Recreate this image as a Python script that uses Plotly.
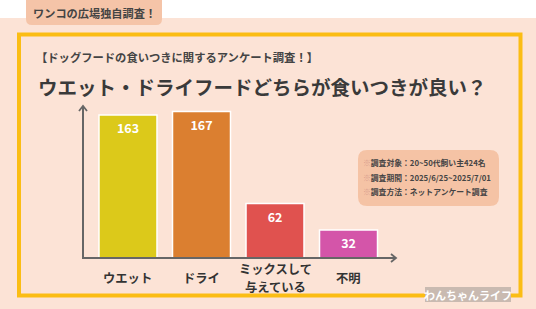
import plotly.graph_objects as go

W, H = 536, 309

categories = ["ウエット", "ドライ", "ミックスして<br>与えている", "不明"]
values = [163, 167, 62, 32]
bar_colors = ["#dcc91a", "#db7f30", "#e0524f", "#d455a9"]

tag_text = "ワンコの広場独自調査！"
subtitle = "【ドッグフードの食いつきに関するアンケート調査！】"
title = "ウエット・ドライフードどちらが食いつきが良い？"
info_lines = ["調査対象：20~50代飼い主424名",
              "調査期間：2025/6/25~2025/7/01",
              "調査方法：ネットアンケート調査"]
logo_text = "わんちゃんライフ"

FONT = "Noto Sans CJK JP"
BG = "#fce3d6"


def px(x):
    return x / W


def py(y):
    return 1 - y / H


def rrect(x0, y0, x1, y1, r):
    return (f"M{px(x0 + r)},{py(y0)} L{px(x1 - r)},{py(y0)} "
            f"Q{px(x1)},{py(y0)} {px(x1)},{py(y0 + r)} "
            f"L{px(x1)},{py(y1 - r)} Q{px(x1)},{py(y1)} {px(x1 - r)},{py(y1)} "
            f"L{px(x0 + r)},{py(y1)} Q{px(x0)},{py(y1)} {px(x0)},{py(y1 - r)} "
            f"L{px(x0)},{py(y0 + r)} Q{px(x0)},{py(y0)} {px(x0 + r)},{py(y0)} Z")


fig = go.Figure()
fig.add_trace(go.Bar(
    x=list(range(len(categories))), y=values,
    marker=dict(color=bar_colors, line=dict(color="white", width=1.5)),
    text=[str(v) for v in values], textposition="inside", insidetextanchor="end",
    textangle=0, constraintext="none",
    textfont=dict(family=FONT, size=12.5, color="white", weight="bold"),
    hoverinfo="skip",
))

shapes = []
shapes.append(dict(type="rect", xref="paper", yref="paper", x0=0, x1=1, y0=py(18), y1=1,
                   fillcolor="white", line=dict(width=0), layer="below"))
shapes.append(dict(type="path", xref="paper", yref="paper", path=rrect(26, -8, 162, 25, 6),
                   fillcolor="#f5c4a8", line=dict(width=0), layer="below"))
shapes.append(dict(type="rect", xref="paper", yref="paper", x0=px(19), x1=px(520.5),
                   y0=py(295.5), y1=py(34.5), line=dict(color="#fbbd14", width=4),
                   fillcolor="rgba(0,0,0,0)", layer="below"))
shapes.append(dict(type="path", xref="paper", yref="paper", path=rrect(358, 150, 499, 206, 9),
                   fillcolor="#f5c3a5", line=dict(width=0), layer="below"))
ax_col = "#666666"
shapes.append(dict(type="line", xref="paper", yref="paper", x0=px(83), x1=px(83),
                   y0=py(258), y1=py(106), line=dict(color=ax_col, width=2)))
shapes.append(dict(type="line", xref="paper", yref="paper", x0=px(82), x1=px(396),
                   y0=py(258), y1=py(258), line=dict(color=ax_col, width=2)))
shapes.append(dict(type="path", xref="paper", yref="paper",
                   path=f"M{px(79)},{py(111)} L{px(83)},{py(106)} L{px(87)},{py(111)}",
                   line=dict(color=ax_col, width=1.8)))
shapes.append(dict(type="path", xref="paper", yref="paper",
                   path=f"M{px(391)},{py(254)} L{px(396)},{py(258)} L{px(391)},{py(262)}",
                   line=dict(color=ax_col, width=1.8)))
shapes.append(dict(type="rect", xref="paper", yref="paper", x0=px(425), x1=px(511),
                   y0=py(302), y1=py(287), fillcolor="#c9bab1", line=dict(width=0), layer="above"))

ann = []
ann.append(dict(text=f"<b>{tag_text}</b>", x=px(94), y=py(13.5), xref="paper", yref="paper",
                showarrow=False, font=dict(family=FONT, size=11.2, color="#444444"),
                xanchor="center", yanchor="middle"))
ann.append(dict(text=f"<b>{subtitle}</b>", x=px(34), y=py(57), xref="paper", yref="paper",
                showarrow=False, font=dict(family=FONT, size=11.3, color="#444444"),
                xanchor="left", yanchor="middle"))
ann.append(dict(text=f"<b>{title}</b>", x=px(36), y=py(86), xref="paper", yref="paper",
                showarrow=False, font=dict(family=FONT, size=19.5, color="#3a3a3a"),
                xanchor="left", yanchor="middle"))
for line, yy in zip(info_lines, [162, 177, 192]):
    ann.append(dict(text=f"<span style='color:#d9a08f'>※</span><b>{line}</b>",
                    x=px(361), y=py(yy), xref="paper", yref="paper", showarrow=False,
                    font=dict(family=FONT, size=7.8, color="#444444"),
                    xanchor="left", yanchor="middle"))
for i, c in enumerate(categories):
    parts = c.split("<br>")
    if len(parts) == 1:
        ys = [277.5]
    else:
        ys = [268.5, 286.5]
    for part, yy in zip(parts, ys):
        ann.append(dict(text=f"<b>{part}</b>", x=i, y=py(yy), xref="x", yref="paper",
                        showarrow=False, font=dict(family=FONT, size=12.3, color="#333333"),
                        xanchor="center", yanchor="middle", align="center", borderpad=0))
ann.append(dict(text=f"<b>{logo_text}</b>", x=px(468), y=py(294.5), xref="paper", yref="paper",
                showarrow=False, font=dict(family=FONT, size=11, color="white"),
                xanchor="center", yanchor="middle"))

fig.update_layout(
    width=W, height=H, margin=dict(l=0, r=0, t=0, b=0),
    paper_bgcolor=BG, plot_bgcolor="rgba(0,0,0,0)",
    showlegend=False, bargap=0.211,
    xaxis=dict(domain=[px(83), px(396)], range=[-0.612, 3.646], visible=False, fixedrange=True),
    yaxis=dict(domain=[py(258), py(108)], range=[0, 171], visible=False, fixedrange=True),
    shapes=shapes, annotations=ann,
)

fig.write_html("out.html")
